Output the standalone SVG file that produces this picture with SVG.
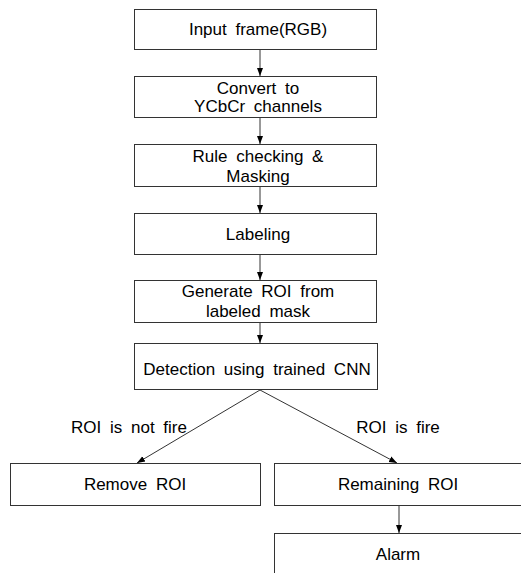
<svg xmlns="http://www.w3.org/2000/svg" width="521" height="573" viewBox="0 0 521 573">
<style>
.box{fill:#fff;stroke:#333;stroke-width:1}
.t{font-family:"Liberation Sans",Arial,sans-serif;font-size:17px;word-spacing:4px;fill:#000;text-anchor:middle}
.c{stroke:#333;stroke-width:1;fill:none;marker-end:url(#ah)}
</style>
<defs>
<marker id="ah" viewBox="0 0 8 8" refX="8" refY="4" markerWidth="8" markerHeight="8" markerUnits="userSpaceOnUse" orient="auto">
<path d="M0,1 L8,4 L0,7 Z" fill="#000"/>
</marker>
</defs>
<rect width="521" height="573" fill="#fff"/>
<g id="connectors">
<line class="c" x1="260" y1="49" x2="260" y2="76"/>
<line class="c" x1="260" y1="117" x2="260" y2="144"/>
<line class="c" x1="260" y1="186" x2="260" y2="213"/>
<line class="c" x1="260" y1="254" x2="260" y2="280"/>
<line class="c" x1="260" y1="322" x2="260" y2="343"/>
<line class="c" x1="260" y1="390" x2="137" y2="463"/>
<line class="c" x1="260" y1="390" x2="397" y2="463"/>
<line class="c" x1="399" y1="505" x2="399" y2="533"/>
<text class="t" x="129" y="433">ROI is not fire</text>
<text class="t" x="398" y="433">ROI is fire</text>
</g>
<g id="n1"><rect class="box" x="134.5" y="9.5" width="242" height="40"/><text class="t" x="258" y="35">Input frame(RGB)</text></g>
<g id="n2"><rect class="box" x="134.5" y="76.5" width="242" height="41"/><text class="t" x="258" y="94">Convert to</text><text class="t" x="258" y="112">YCbCr channels</text></g>
<g id="n3"><rect class="box" x="134.5" y="144.5" width="242" height="42"/><text class="t" x="258" y="162">Rule checking &amp;</text><text class="t" x="258" y="182">Masking</text></g>
<g id="n4"><rect class="box" x="134.5" y="213.5" width="242" height="41"/><text class="t" x="258" y="240">Labeling</text></g>
<g id="n5"><rect class="box" x="134.5" y="280.5" width="242" height="42"/><text class="t" x="258" y="297">Generate ROI from</text><text class="t" x="258" y="317">labeled mask</text></g>
<g id="n6"><rect class="box" x="134.5" y="343.5" width="243" height="46"/><text class="t" x="257" y="375">Detection using trained CNN</text></g>
<g id="n7"><rect class="box" x="10.5" y="463.5" width="250" height="42"/><text class="t" x="135" y="490">Remove ROI</text></g>
<g id="n8"><rect class="box" x="274.5" y="463.5" width="260" height="42"/><text class="t" x="398" y="490">Remaining ROI</text></g>
<g id="n9"><rect class="box" x="274.5" y="533.5" width="260" height="60"/><text class="t" x="398" y="560">Alarm</text></g>
</svg>
